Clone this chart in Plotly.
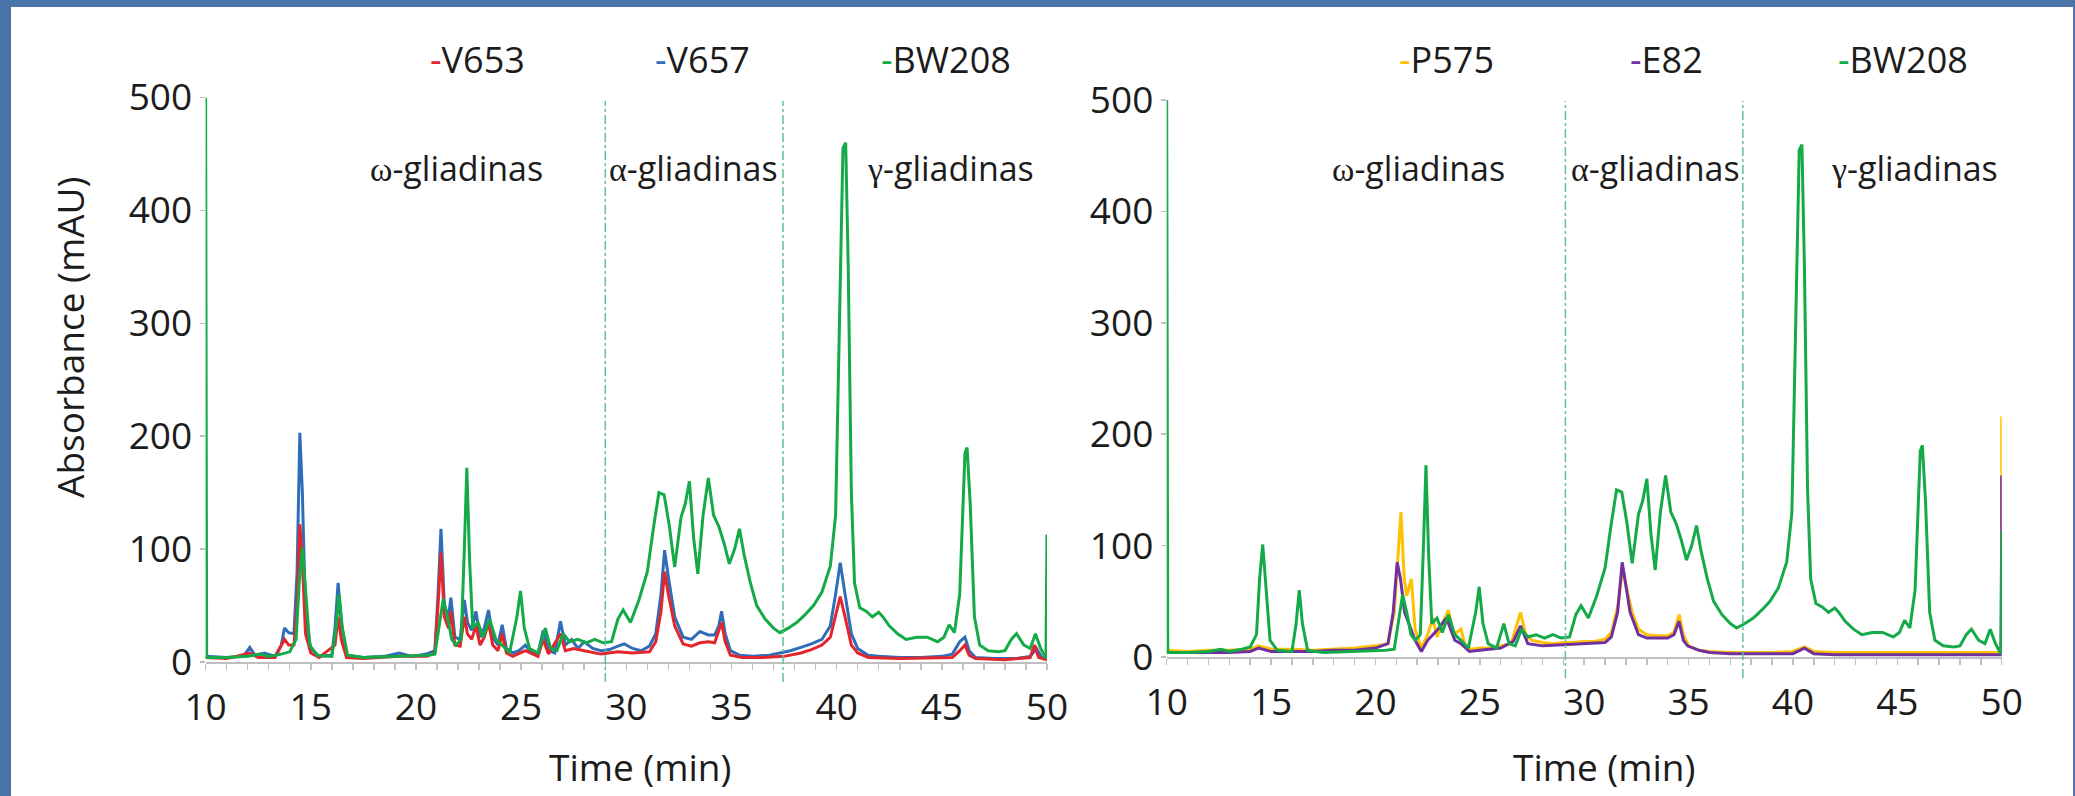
import plotly.graph_objects as go

# ---------------- data ----------------
bw208_t = [10.0, 10.05, 11, 12, 12.6, 13.0, 13.6, 14.0, 14.3, 14.45, 14.6, 14.75, 14.95, 15.3, 16.0, 16.2, 16.35, 16.5,
           16.75, 17.5, 19, 20.5, 20.9, 21.1, 21.3, 21.5, 21.7, 21.9, 22.15, 22.3, 22.42, 22.55, 22.7, 22.95, 23.2, 23.5,
           23.8, 24.1, 24.45, 24.8, 24.97, 25.15, 25.4, 25.8, 26.15, 26.4, 26.7, 27.0, 27.3, 27.7, 28.1, 28.5, 28.9, 29.3,
           29.6, 29.85, 30.2, 30.6, 31.0, 31.3, 31.55, 31.8, 32.05, 32.3, 32.6, 32.8, 33.0, 33.2, 33.4, 33.65, 33.9, 34.15,
           34.4, 34.65, 34.9, 35.15, 35.38, 35.6, 35.9, 36.2, 36.6, 37.0, 37.3, 37.7, 38.1, 38.5, 38.9, 39.3, 39.7, 39.95,
           40.15, 40.3, 40.43, 40.55, 40.7, 40.85, 41.1, 41.4, 41.7, 42.0, 42.2, 42.5, 42.9, 43.3, 43.8, 44.3, 44.8, 45.1,
           45.35, 45.6, 45.85, 46.1, 46.2, 46.35, 46.55, 46.8, 47.2, 47.7, 48.0, 48.3, 48.55, 48.9, 49.2, 49.45, 49.7,
           49.95, 50.0]
bw208_v = [500, 4, 4, 5, 7, 5, 7, 9, 20, 70, 101, 60, 15, 6, 5, 30, 60, 30,
           6, 4, 5, 6, 7, 30, 56, 40, 20, 15, 20, 100, 172, 90, 30, 35, 22, 38,
           20, 15, 8, 40, 63, 30, 12, 8, 30, 12, 10, 25, 18, 20, 17, 20, 17, 18,
           38, 46, 35, 55, 80, 120, 150, 148, 120, 84, 128, 140, 160, 110, 78, 130, 163, 130,
           120, 105, 87, 100, 118, 95, 70, 50, 38, 30, 26, 30, 35, 42, 50, 62, 85, 130,
           300, 455, 460, 350, 150, 70, 48, 45, 40, 44, 40, 32, 25, 20, 22, 22, 18, 22,
           33, 26, 60, 185, 190, 140, 40, 15, 10, 9, 10, 20, 25, 15, 12, 25, 12,
           3, 113]

v657_t = [10.0, 11, 11.8, 12.1, 12.35, 12.8, 13.3, 13.6, 13.75, 13.95, 14.2, 14.35, 14.48, 14.6, 14.75, 15.0, 15.4, 16.0,
          16.15, 16.3, 16.45, 16.7, 17.5, 18.5, 19.2, 19.8, 20.5, 20.9, 21.05, 21.19, 21.35, 21.55, 21.66, 21.85, 22.1,
          22.3, 22.45, 22.65, 22.85, 23.05, 23.25, 23.45, 23.65, 23.9, 24.1, 24.3, 24.6, 24.9, 25.2, 25.5, 25.8, 26.05,
          26.3, 26.6, 26.87, 27.1, 27.4, 27.7, 28.0, 28.4, 28.8, 29.2, 29.6, 29.9, 30.3, 30.7, 31.1, 31.4, 31.65, 31.82,
          32.0, 32.3, 32.7, 33.1, 33.5, 33.9, 34.2, 34.4, 34.53, 34.7, 34.95, 35.4, 36.0, 36.8, 37.3, 37.8, 38.3, 38.8,
          39.3, 39.7, 39.95, 40.17, 40.4, 40.7, 41.0, 41.5, 42.0, 43, 44, 45.0, 45.5, 45.85, 46.1, 46.3, 46.6, 47.5, 48.5,
          49.2, 49.5, 49.75, 50.0]
v657_v = [5, 4, 5, 13, 6, 8, 5, 15, 30, 26, 25, 80, 203, 150, 40, 12, 5, 6,
          30, 70, 35, 6, 4, 5, 8, 5, 7, 10, 60, 118, 50, 40, 57, 22, 20,
          55, 35, 28, 45, 22, 30, 46, 22, 15, 33, 12, 8, 10, 15, 8, 7, 28,
          10, 8, 36, 15, 20, 12, 18, 12, 10, 11, 14, 16, 12, 10, 14, 25, 60, 99,
          75, 40, 22, 20, 27, 24, 24, 32, 45, 25, 10, 6, 5, 6, 8, 10, 13, 16,
          20, 32, 60, 88, 60, 25, 12, 6, 5, 4, 4, 5, 7, 18, 22, 10, 4, 3, 3,
          5, 12, 4, 3]

v653_t = [10.0, 11, 12.1, 12.5, 13.3, 13.75, 13.95, 14.2, 14.35, 14.48, 14.6, 14.75, 15.0, 15.4, 16.15, 16.3, 16.45, 16.7,
          17.5, 19.2, 20.5, 20.9, 21.05, 21.19, 21.35, 21.55, 21.66, 21.85, 22.1, 22.3, 22.45, 22.65, 22.85, 23.05, 23.25,
          23.45, 23.65, 23.9, 24.1, 24.3, 24.6, 25.2, 25.8, 26.05, 26.3, 26.87, 27.1, 27.5, 28.0, 28.8, 29.6, 30.3, 31.1,
          31.4, 31.65, 31.82, 32.0, 32.3, 32.7, 33.1, 33.5, 33.9, 34.2, 34.53, 34.7, 34.95, 35.5, 36.5, 37.5, 38.3, 38.8,
          39.3, 39.7, 39.95, 40.17, 40.4, 40.7, 41.0, 41.5, 43, 45.5, 45.85, 46.1, 46.3, 46.6, 48, 49.2, 49.4, 49.6, 50.0]
v653_v = [4, 3, 8, 4, 4, 20, 15, 15, 50, 122, 90, 25, 8, 4, 15, 40, 20, 4,
          3, 5, 5, 8, 50, 97, 40, 30, 45, 15, 14, 40, 25, 20, 32, 15, 22,
          35, 15, 10, 25, 8, 5, 10, 5, 20, 7, 25, 10, 12, 10, 7, 9, 8, 9,
          18, 45, 80, 60, 32, 16, 14, 17, 18, 17, 35, 18, 6, 4, 4, 5, 8, 11,
          15, 22, 40, 58, 40, 15, 8, 4, 3, 4, 10, 15, 6, 3, 2, 4, 15, 4, 2]

p575_t = [10, 11, 12, 13, 14, 14.4, 15, 16, 17, 18, 19, 20, 20.6, 20.9, 21.05, 21.22, 21.38, 21.5, 21.72, 21.9, 22.2,
          22.5, 22.75, 22.95, 23.2, 23.5, 23.75, 24.1, 24.3, 24.6, 25, 25.5, 26, 26.5, 26.95, 27.2, 27.5, 28, 28.5, 29,
          29.5, 30, 30.5, 31, 31.3, 31.6, 31.85, 32.05, 32.3, 32.6, 33, 33.5, 34, 34.3, 34.55, 34.75, 35.0, 35.5, 36, 37,
          38, 39, 40, 40.55, 41, 42, 44, 46, 48, 50, 50]
p575_v = [6, 5, 6, 6, 7, 10, 7, 7, 6, 7, 8, 10, 12, 40, 80, 130, 70, 55, 70, 25, 8,
          20, 35, 18, 30, 42, 20, 25, 10, 7, 8, 8, 10, 12, 40, 20, 15, 13, 12, 13,
          13, 14, 14, 16, 22, 45, 80, 60, 40, 25, 20, 19, 19, 22, 38, 20, 10, 6, 5, 4,
          4, 4, 5, 9, 5, 4, 4, 4, 4, 4, 216]

e82_t = [10, 11, 12, 13, 14, 14.4, 15, 16, 17, 18, 19, 20, 20.6, 20.85, 21.04, 21.2, 21.4, 21.6, 21.9, 22.2, 22.5,
         22.75, 23.0, 23.4, 23.8, 24.1, 24.5, 25, 26, 26.6, 26.95, 27.3, 28, 29, 30, 31, 31.3, 31.6, 31.82, 32.0, 32.2,
         32.6, 33, 34, 34.3, 34.54, 34.75, 34.95, 35.5, 36, 37, 38, 39, 40, 40.55, 41, 42, 44, 46, 48, 50, 50]
e82_v = [4, 4, 4, 4, 5, 8, 5, 5, 5, 6, 6, 8, 12, 40, 85, 70, 40, 30, 15, 5, 15,
         20, 25, 35, 15, 12, 5, 6, 8, 14, 28, 12, 10, 11, 12, 13, 18, 40, 85, 65, 40,
         20, 17, 17, 20, 32, 15, 10, 6, 4, 3, 3, 3, 3, 8, 3, 2, 2, 2, 2, 2, 163]

section_bounds_left = [29.0, 37.45]
section_bounds_right = [29.1, 37.6]
section_names = ["ω", "α", "γ"]
y_ticks = [0, 100, 200, 300, 400, 500]
x_ticks = [10, 15, 20, 25, 30, 35, 40, 45, 50]

# ---------------- style ----------------
W, H = 2075, 796
FONT = "Open Sans, Noto Sans, sans-serif"
TXT = "#1c1c1c"
C_RED = "#e3262b"
C_BLUE = "#2f6db8"
C_GREEN = "#14aa48"
C_YEL = "#ffc000"
C_PUR = "#7030a0"
C_SEC = "#5fbf97"
AX = "#bfbfbf"
LW = 3

def px(x):
    return x / W

def py(y):
    return 1 - y / H

fig = go.Figure()

# left panel
fig.add_trace(go.Scatter(x=v657_t, y=v657_v, name="V657", mode="lines",
                         line=dict(color=C_BLUE, width=LW), xaxis="x", yaxis="y"))
fig.add_trace(go.Scatter(x=v653_t, y=v653_v, name="V653", mode="lines",
                         line=dict(color=C_RED, width=LW), xaxis="x", yaxis="y"))
fig.add_trace(go.Scatter(x=bw208_t, y=bw208_v, name="BW208", mode="lines",
                         line=dict(color=C_GREEN, width=LW), xaxis="x", yaxis="y"))
# right panel
fig.add_trace(go.Scatter(x=p575_t, y=p575_v, name="P575", mode="lines",
                         line=dict(color=C_YEL, width=LW), xaxis="x2", yaxis="y2"))
fig.add_trace(go.Scatter(x=e82_t, y=e82_v, name="E82", mode="lines",
                         line=dict(color=C_PUR, width=LW), xaxis="x2", yaxis="y2"))
fig.add_trace(go.Scatter(x=bw208_t, y=bw208_v, name="BW208", mode="lines",
                         line=dict(color=C_GREEN, width=LW), xaxis="x2", yaxis="y2"))

xax = dict(range=[10, 50], tickvals=x_ticks, showline=True, linecolor=AX, linewidth=2,
           ticks="outside", ticklen=6, tickwidth=1.5, tickcolor=AX, layer="below traces",
           showgrid=False, zeroline=False, ticklabelstandoff=6, automargin=False,
           minor=dict(dtick=1, ticks="outside", ticklen=6, tickwidth=1.5, tickcolor=AX, showgrid=False),
           tickfont=dict(family=FONT, size=37, color=TXT))
yax = dict(range=[0, 500], tickvals=y_ticks, showline=False, ticks="outside", ticklen=5,
           tickwidth=1.5, tickcolor=AX, showgrid=False, zeroline=False, automargin=False,
           tickfont=dict(family=FONT, size=37, color=TXT))

fig.update_layout(
    template="none",
    autosize=False,
    width=W, height=H,
    margin=dict(l=0, r=0, t=0, b=0, pad=0, autoexpand=False),
    paper_bgcolor="#4a74a8",
    plot_bgcolor="white",
    showlegend=False,
    hovermode=False,
    xaxis=dict(xax, domain=[px(205.6), px(1047)], anchor="y"),
    yaxis=dict(yax, domain=[py(662), py(97.5)], anchor="x"),
    xaxis2=dict(xax, domain=[px(1166.7), px(2001.7)], anchor="y2"),
    yaxis2=dict(yax, domain=[py(657), py(100)], anchor="x2"),
)

# white panel
fig.add_shape(type="rect", xref="paper", yref="paper", x0=px(11), x1=px(2073), y0=-0.01, y1=py(7),
              fillcolor="white", line=dict(width=0), layer="below")

# section boundaries
for xr, bounds, ytop, ybot in [("x", section_bounds_left, 101, 682), ("x2", section_bounds_right, 101, 678)]:
    for b in bounds:
        fig.add_shape(type="line", xref=xr, yref="paper", x0=b, x1=b, y0=py(ybot), y1=py(ytop),
                      line=dict(color=C_SEC, width=1.5, dash="dashdot"))

# section labels
def sec_label(letter):
    return ('<span style="font-family:\'Liberation Serif\', \'DejaVu Serif\', serif">' + letter +
            '</span>-gliadinas')

for cx, letter in zip([456, 693, 950, 1418, 1655, 1914], section_names * 2):
    fig.add_annotation(x=px(cx), y=py(168), xref="paper", yref="paper", text=sec_label(letter),
                       showarrow=False, xanchor="center", yanchor="middle",
                       font=dict(family=FONT, size=34, color=TXT))

# legends
legend_items = [(428, "V653", C_RED), (653, "V657", C_BLUE), (879, "BW208", C_GREEN),
                (1397, "P575", C_YEL), (1628, "E82", C_PUR), (1836, "BW208", C_GREEN)]
for lx, name, col in legend_items:
    fig.add_annotation(x=px(lx), y=py(60), xref="paper", yref="paper",
                       text='<span style="color:%s">-</span>%s' % (col, name),
                       showarrow=False, xanchor="left", yanchor="middle",
                       font=dict(family=FONT, size=36, color=TXT))

# axis titles
fig.add_annotation(x=px(69), y=py(337), xref="paper", yref="paper", text="Absorbance (mAU)",
                   textangle=-90, showarrow=False, xanchor="center", yanchor="middle",
                   font=dict(family=FONT, size=37, color=TXT))
for cx in [640, 1604]:
    fig.add_annotation(x=px(cx), y=py(766), xref="paper", yref="paper", text="Time (min)",
                       showarrow=False, xanchor="center", yanchor="middle",
                       font=dict(family=FONT, size=37, color=TXT))

fig.write_html("out.html",
               config={"displayModeBar": False, "staticPlot": True},
               post_script="document.body.style.margin='0';document.body.style.overflow='hidden';"
                           "document.body.style.background='#4a74a8';")
